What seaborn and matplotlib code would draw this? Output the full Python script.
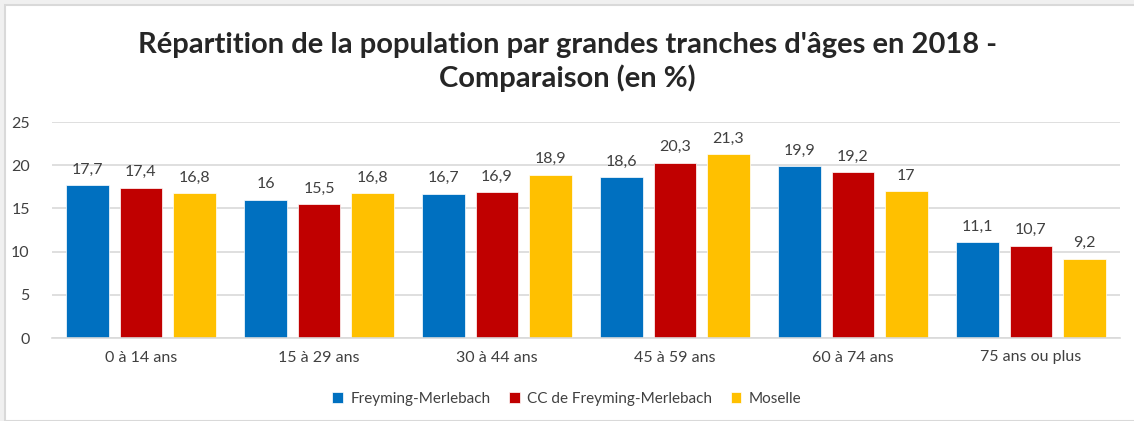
import pandas as pd
import matplotlib.pyplot as plt
import seaborn as sns
from matplotlib.patches import Rectangle

# Données (en %)
tranches = ['0 à 14 ans', '15 à 29 ans', '30 à 44 ans',
            '45 à 59 ans', '60 à 74 ans', '75 ans ou plus']
freyming = [17.7, 16, 16.7, 18.6, 19.9, 11.1]
cc_freyming = [17.4, 15.5, 16.9, 20.3, 19.2, 10.7]
moselle = [16.8, 16.8, 18.9, 21.3, 17, 9.2]
series = ['Freyming-Merlebach', 'CC de Freyming-Merlebach', 'Moselle']
colors = ['#0070C0', '#C00000', '#FFC000']

df = pd.DataFrame({'tranche': tranches * 3,
                   'zone': [s for s in series for _ in tranches],
                   'valeur': freyming + cc_freyming + moselle})

sns.set_style("white")
plt.rcParams['font.family'] = ['Lato', 'DejaVu Sans']

W, H = 1134, 421
fig = plt.figure(figsize=(W / 100, H / 100), dpi=100, facecolor='#f0f0f0')
fig.patches.append(Rectangle((5 / W, 0), 1, 1 - 5 / H, transform=fig.transFigure,
                             facecolor='white', edgecolor='#d9d9d9', linewidth=1.5, zorder=-5))

ax = fig.add_axes([52 / W, 1 - 338 / H, (1120 - 52) / W, (338 - 122) / H])
ax.set_facecolor('none')
ax.set_zorder(2)
sns.barplot(data=df, x='tranche', y='valeur', hue='zone', palette=colors, saturation=1,
            width=0.9, gap=0.2, ax=ax, edgecolor='white', linewidth=0.5, legend=True)

for cont in ax.containers:
    ax.bar_label(cont, labels=[f'{v:g}'.replace('.', ',') for v in cont.datavalues],
                 padding=6, fontsize=11.5, color='#404040')

ax.set_ylim(0, 25)
ax.set_yticks(range(0, 26, 5))
ax.yaxis.grid(True, color='#d9d9d9', linewidth=1.2)
ax.set_axisbelow(True)
for s in ['top', 'right', 'left']:
    ax.spines[s].set_visible(False)
ax.spines['bottom'].set_color('#d9d9d9')
ax.spines['bottom'].set_linewidth(1.2)
ax.tick_params(axis='both', length=0, labelsize=11.5, labelcolor='#404040')
ax.tick_params(axis='x', pad=9)
ax.tick_params(axis='y', pad=16)
ax.set_xlabel('')
ax.set_ylabel('')

fig.text(0.5, 1 - 62 / H, "Répartition de la population par grandes tranches d'âges en 2018 -\nComparaison (en %)",
         ha='center', va='center', fontsize=21, fontweight='bold', linespacing=1.25)

handles, labels = ax.get_legend_handles_labels()
ax.legend_.remove()
fig.legend(handles, labels, loc='center', bbox_to_anchor=(0.5, 1 - 399 / H), ncol=3,
           frameon=False, fontsize=11, handlelength=0.7, handleheight=0.7,
           columnspacing=1.2, handletextpad=0.5, labelcolor='#404040')

fig.savefig('out.png', dpi=100, facecolor=fig.get_facecolor())
